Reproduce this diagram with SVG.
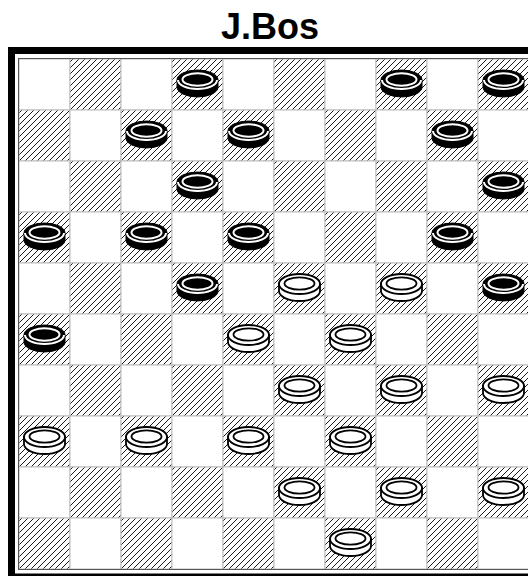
<svg xmlns="http://www.w3.org/2000/svg" xmlns:xlink="http://www.w3.org/1999/xlink" width="528" height="576" viewBox="0 0 528 576">
<style>
.title{font-family:"Liberation Sans",Arial,sans-serif;font-weight:bold;font-size:36px;fill:#000}
.light{fill:#fff;stroke:#bbb;stroke-width:1}
.dark{fill:url(#hatch);stroke:#bbb;stroke-width:1}
</style>
<defs>
<pattern id="hatch" patternUnits="userSpaceOnUse" x="19" y="59" width="6" height="6">
<rect width="6" height="6" fill="#fff"/>
<path d="M-1,7 L7,-1" stroke="#000" stroke-width="0.9"/>
</pattern>
<g id="bp">
<path d="M-20.5,-4.5 V2.5 A20.5,10 0 0 0 20.5,2.5 V-4.5 Z" fill="#000" stroke="#000" stroke-width="1"/>
<ellipse cx="0" cy="-4.5" rx="20.5" ry="10" fill="#000" stroke="#000" stroke-width="1"/>
<path d="M-19.5,-4.5 A19.5,9 0 0 0 19.5,-4.5" fill="none" stroke="#fff" stroke-width="2"/>
<ellipse cx="0" cy="-5" rx="15" ry="6.2" fill="#000" stroke="#fff" stroke-width="2"/>
</g>
<g id="wp">
<path d="M-20.5,-4.5 V2.5 A20.5,10 0 0 0 20.5,2.5 V-4.5 Z" fill="#fff" stroke="#000" stroke-width="1.8"/>
<ellipse cx="0" cy="-4.5" rx="20.5" ry="10" fill="#fff" stroke="#000" stroke-width="1.8"/>
<ellipse cx="0" cy="-5" rx="15" ry="6.2" fill="#fff" stroke="#000" stroke-width="1.8"/>
</g>
</defs>
<rect width="528" height="576" fill="#fff"/>
<text class="title" x="270" y="39" text-anchor="middle">J.Bos</text>
<g id="frame">
<rect x="11.5" y="50.5" width="526" height="526.5" fill="none" stroke="#000" stroke-width="7"/>
</g>
<g id="board">
<rect x="19" y="59" width="510" height="510" fill="#fff"/>
<rect class="light" x="19" y="59" width="51" height="51"/><rect class="dark" x="70" y="59" width="51" height="51"/><rect class="light" x="121" y="59" width="51" height="51"/><rect class="dark" x="172" y="59" width="51" height="51"/><rect class="light" x="223" y="59" width="51" height="51"/><rect class="dark" x="274" y="59" width="51" height="51"/><rect class="light" x="325" y="59" width="51" height="51"/><rect class="dark" x="376" y="59" width="51" height="51"/><rect class="light" x="427" y="59" width="51" height="51"/><rect class="dark" x="478" y="59" width="51" height="51"/>
<rect class="dark" x="19" y="110" width="51" height="51"/><rect class="light" x="70" y="110" width="51" height="51"/><rect class="dark" x="121" y="110" width="51" height="51"/><rect class="light" x="172" y="110" width="51" height="51"/><rect class="dark" x="223" y="110" width="51" height="51"/><rect class="light" x="274" y="110" width="51" height="51"/><rect class="dark" x="325" y="110" width="51" height="51"/><rect class="light" x="376" y="110" width="51" height="51"/><rect class="dark" x="427" y="110" width="51" height="51"/><rect class="light" x="478" y="110" width="51" height="51"/>
<rect class="light" x="19" y="161" width="51" height="51"/><rect class="dark" x="70" y="161" width="51" height="51"/><rect class="light" x="121" y="161" width="51" height="51"/><rect class="dark" x="172" y="161" width="51" height="51"/><rect class="light" x="223" y="161" width="51" height="51"/><rect class="dark" x="274" y="161" width="51" height="51"/><rect class="light" x="325" y="161" width="51" height="51"/><rect class="dark" x="376" y="161" width="51" height="51"/><rect class="light" x="427" y="161" width="51" height="51"/><rect class="dark" x="478" y="161" width="51" height="51"/>
<rect class="dark" x="19" y="212" width="51" height="51"/><rect class="light" x="70" y="212" width="51" height="51"/><rect class="dark" x="121" y="212" width="51" height="51"/><rect class="light" x="172" y="212" width="51" height="51"/><rect class="dark" x="223" y="212" width="51" height="51"/><rect class="light" x="274" y="212" width="51" height="51"/><rect class="dark" x="325" y="212" width="51" height="51"/><rect class="light" x="376" y="212" width="51" height="51"/><rect class="dark" x="427" y="212" width="51" height="51"/><rect class="light" x="478" y="212" width="51" height="51"/>
<rect class="light" x="19" y="263" width="51" height="51"/><rect class="dark" x="70" y="263" width="51" height="51"/><rect class="light" x="121" y="263" width="51" height="51"/><rect class="dark" x="172" y="263" width="51" height="51"/><rect class="light" x="223" y="263" width="51" height="51"/><rect class="dark" x="274" y="263" width="51" height="51"/><rect class="light" x="325" y="263" width="51" height="51"/><rect class="dark" x="376" y="263" width="51" height="51"/><rect class="light" x="427" y="263" width="51" height="51"/><rect class="dark" x="478" y="263" width="51" height="51"/>
<rect class="dark" x="19" y="314" width="51" height="51"/><rect class="light" x="70" y="314" width="51" height="51"/><rect class="dark" x="121" y="314" width="51" height="51"/><rect class="light" x="172" y="314" width="51" height="51"/><rect class="dark" x="223" y="314" width="51" height="51"/><rect class="light" x="274" y="314" width="51" height="51"/><rect class="dark" x="325" y="314" width="51" height="51"/><rect class="light" x="376" y="314" width="51" height="51"/><rect class="dark" x="427" y="314" width="51" height="51"/><rect class="light" x="478" y="314" width="51" height="51"/>
<rect class="light" x="19" y="365" width="51" height="51"/><rect class="dark" x="70" y="365" width="51" height="51"/><rect class="light" x="121" y="365" width="51" height="51"/><rect class="dark" x="172" y="365" width="51" height="51"/><rect class="light" x="223" y="365" width="51" height="51"/><rect class="dark" x="274" y="365" width="51" height="51"/><rect class="light" x="325" y="365" width="51" height="51"/><rect class="dark" x="376" y="365" width="51" height="51"/><rect class="light" x="427" y="365" width="51" height="51"/><rect class="dark" x="478" y="365" width="51" height="51"/>
<rect class="dark" x="19" y="416" width="51" height="51"/><rect class="light" x="70" y="416" width="51" height="51"/><rect class="dark" x="121" y="416" width="51" height="51"/><rect class="light" x="172" y="416" width="51" height="51"/><rect class="dark" x="223" y="416" width="51" height="51"/><rect class="light" x="274" y="416" width="51" height="51"/><rect class="dark" x="325" y="416" width="51" height="51"/><rect class="light" x="376" y="416" width="51" height="51"/><rect class="dark" x="427" y="416" width="51" height="51"/><rect class="light" x="478" y="416" width="51" height="51"/>
<rect class="light" x="19" y="467" width="51" height="51"/><rect class="dark" x="70" y="467" width="51" height="51"/><rect class="light" x="121" y="467" width="51" height="51"/><rect class="dark" x="172" y="467" width="51" height="51"/><rect class="light" x="223" y="467" width="51" height="51"/><rect class="dark" x="274" y="467" width="51" height="51"/><rect class="light" x="325" y="467" width="51" height="51"/><rect class="dark" x="376" y="467" width="51" height="51"/><rect class="light" x="427" y="467" width="51" height="51"/><rect class="dark" x="478" y="467" width="51" height="51"/>
<rect class="dark" x="19" y="518" width="51" height="51"/><rect class="light" x="70" y="518" width="51" height="51"/><rect class="dark" x="121" y="518" width="51" height="51"/><rect class="light" x="172" y="518" width="51" height="51"/><rect class="dark" x="223" y="518" width="51" height="51"/><rect class="light" x="274" y="518" width="51" height="51"/><rect class="dark" x="325" y="518" width="51" height="51"/><rect class="light" x="376" y="518" width="51" height="51"/><rect class="dark" x="427" y="518" width="51" height="51"/><rect class="light" x="478" y="518" width="51" height="51"/>
<rect x="18.5" y="58.5" width="511" height="511" fill="none" stroke="#555" stroke-width="1"/>
</g>
<g id="pieces">
<use xlink:href="#bp" x="197.5" y="84.5"/><use xlink:href="#bp" x="401.5" y="84.5"/><use xlink:href="#bp" x="503.5" y="84.5"/>
<use xlink:href="#bp" x="146.5" y="135.5"/><use xlink:href="#bp" x="248.5" y="135.5"/><use xlink:href="#bp" x="452.5" y="135.5"/>
<use xlink:href="#bp" x="197.5" y="186.5"/><use xlink:href="#bp" x="503.5" y="186.5"/>
<use xlink:href="#bp" x="44.5" y="237.5"/><use xlink:href="#bp" x="146.5" y="237.5"/><use xlink:href="#bp" x="248.5" y="237.5"/><use xlink:href="#bp" x="452.5" y="237.5"/>
<use xlink:href="#bp" x="197.5" y="288.5"/><use xlink:href="#bp" x="503.5" y="288.5"/>
<use xlink:href="#wp" x="299.5" y="288.5"/><use xlink:href="#wp" x="401.5" y="288.5"/>
<use xlink:href="#bp" x="44.5" y="339.5"/>
<use xlink:href="#wp" x="248.5" y="339.5"/><use xlink:href="#wp" x="350.5" y="339.5"/>
<use xlink:href="#wp" x="299.5" y="390.5"/><use xlink:href="#wp" x="401.5" y="390.5"/><use xlink:href="#wp" x="503.5" y="390.5"/>
<use xlink:href="#wp" x="44.5" y="441.5"/><use xlink:href="#wp" x="146.5" y="441.5"/><use xlink:href="#wp" x="248.5" y="441.5"/><use xlink:href="#wp" x="350.5" y="441.5"/>
<use xlink:href="#wp" x="299.5" y="492.5"/><use xlink:href="#wp" x="401.5" y="492.5"/><use xlink:href="#wp" x="503.5" y="492.5"/>
<use xlink:href="#wp" x="350.5" y="543.5"/>
</g>
</svg>
